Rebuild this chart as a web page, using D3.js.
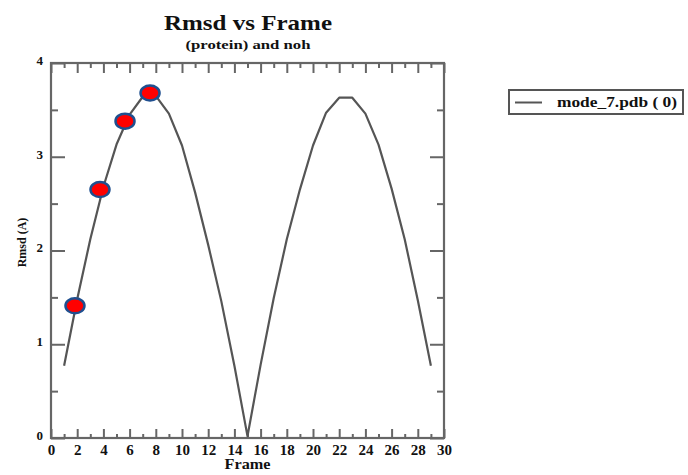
<!DOCTYPE html>
<html><head><meta charset="utf-8">
<script src="https://cdn.jsdelivr.net/npm/d3@7"></script>
<style>
html,body{margin:0;padding:0;background:#fff;}
svg text{font-family:"Liberation Serif","DejaVu Serif",serif;fill:#111;}
</style></head>
<body>
<svg id="c" width="688" height="475"></svg>
<script>
const frames = [1,2,3,4,5,6,7,8,9,10,11,12,13,14,15,16,17,18,19,20,21,22,23,24,25,26,27,28,29];
const rmsd = [0.77,1.48,2.12,2.68,3.13,3.45,3.64,3.65,3.46,3.12,2.62,2.06,1.46,0.77,0.02,0.78,1.49,2.12,2.65,3.12,3.47,3.63,3.63,3.46,3.13,2.66,2.12,1.47,0.77];
const markFrames = [1.83,3.74,5.65,7.56];
const markRmsd = [1.41,2.65,3.38,3.68];
const xTicks = [0,2,4,6,8,10,12,14,16,18,20,22,24,26,28,30];
const yTicks = [0,1,2,3,4];
const title = "Rmsd vs Frame";
const subtitle = "(protein) and noh";
const xLabel = "Frame";
const yLabel = "Rmsd (A)";
const legendLabel = "mode_7.pdb ( 0)";

const svg = d3.select("#c");
const L = 51, R = 444, T = 63, B = 438;
const x = d3.scaleLinear().domain([0,30]).range([L,R]);
const y = d3.scaleLinear().domain([0,4]).range([B,T]);
const axisColor = "#666";

function styleAxis(g){
  g.select(".domain").remove();
  g.selectAll(".tick line").attr("stroke",axisColor).attr("stroke-width",2);
}
const xMinor = d3.range(0,31,1).filter(v=>v%2!==0);
const yMinor = d3.range(0.5,4,1);

// bottom
svg.append("g").attr("transform",`translate(0,${B})`)
  .call(d3.axisBottom(x).tickValues(xMinor).tickSize(-4).tickFormat(""))
  .call(styleAxis);
svg.append("g").attr("transform",`translate(0,${B})`)
  .call(d3.axisBottom(x).tickValues(xTicks).tickSize(-9).tickPadding(12).tickFormat(d3.format("d")))
  .call(styleAxis)
  .call(g=>g.selectAll("text").attr("font-size",15).attr("font-weight","bold").attr("fill","#111").attr("font-family","Liberation Serif").attr("dy","0.3em"));
// top
svg.append("g").attr("transform",`translate(0,${T})`)
  .call(d3.axisTop(x).tickValues(xMinor).tickSize(-5).tickFormat(""))
  .call(styleAxis);
svg.append("g").attr("transform",`translate(0,${T})`)
  .call(d3.axisTop(x).tickValues(xTicks).tickSize(-10).tickFormat(""))
  .call(styleAxis);
// left
svg.append("g").attr("transform",`translate(${L},0)`)
  .call(d3.axisLeft(y).tickValues(yMinor).tickSize(-7).tickFormat(""))
  .call(styleAxis);
svg.append("g").attr("transform",`translate(${L},0)`)
  .call(d3.axisLeft(y).tickValues(yTicks).tickSize(-14).tickPadding(8).tickFormat(d3.format("d")))
  .call(styleAxis)
  .call(g=>g.selectAll("text").attr("font-size",13).attr("font-weight","bold").attr("fill","#111").attr("font-family","Liberation Serif").attr("dy","0.1em"));
// right
svg.append("g").attr("transform",`translate(${R},0)`)
  .call(d3.axisRight(y).tickValues(yMinor).tickSize(-7).tickFormat(""))
  .call(styleAxis);
svg.append("g").attr("transform",`translate(${R},0)`)
  .call(d3.axisRight(y).tickValues(yTicks).tickSize(-14).tickFormat(""))
  .call(styleAxis);

// frame
svg.append("rect").attr("x",L).attr("y",T).attr("width",R-L).attr("height",B-T)
  .attr("fill","none").attr("stroke",axisColor).attr("stroke-width",2.2);

// line
const line = d3.line().x((d,i)=>x(frames[i])).y(d=>y(d));
svg.append("path").datum(rmsd).attr("d",line)
  .attr("fill","none").attr("stroke","#555").attr("stroke-width",2.2).attr("stroke-linejoin","round");

// markers
svg.selectAll("ellipse.m").data(markRmsd).join("ellipse").attr("class","m")
  .attr("cx",(d,i)=>x(markFrames[i])).attr("cy",d=>y(d))
  .attr("rx",9.5).attr("ry",7.5).attr("fill","#ff0000").attr("stroke","#1f4f8f").attr("stroke-width",2.5);

// titles
svg.append("text").attr("x",248).attr("y",30).attr("text-anchor","middle")
  .attr("font-size",22).attr("font-weight","bold")
  .attr("textLength",168).attr("lengthAdjust","spacingAndGlyphs").text(title);
svg.append("text").attr("x",248).attr("y",49).attr("text-anchor","middle")
  .attr("font-size",13).attr("font-weight","bold")
  .attr("textLength",125).attr("lengthAdjust","spacingAndGlyphs").text(subtitle);
svg.append("text").attr("x",(L+R)/2).attr("y",469).attr("text-anchor","middle")
  .attr("font-size",15).attr("font-weight","bold")
  .attr("textLength",46).attr("lengthAdjust","spacingAndGlyphs").text(xLabel);
svg.append("text").attr("transform",`translate(26,${(T+B)/2 - 8}) rotate(-90)`).attr("text-anchor","middle")
  .attr("font-size",12).attr("font-weight","bold").text(yLabel);

// legend
const lg = svg.append("g");
lg.append("rect").attr("x",509).attr("y",90).attr("width",174).attr("height",24)
  .attr("fill","#fff").attr("stroke","#555").attr("stroke-width",2);
lg.append("line").attr("x1",515).attr("x2",542).attr("y1",102.5).attr("y2",102.5)
  .attr("stroke","#555").attr("stroke-width",2);
lg.append("text").attr("x",557).attr("y",107).attr("font-size",14).attr("font-weight","bold")
  .attr("textLength",120).attr("lengthAdjust","spacingAndGlyphs").text(legendLabel);
</script>
</body></html>
